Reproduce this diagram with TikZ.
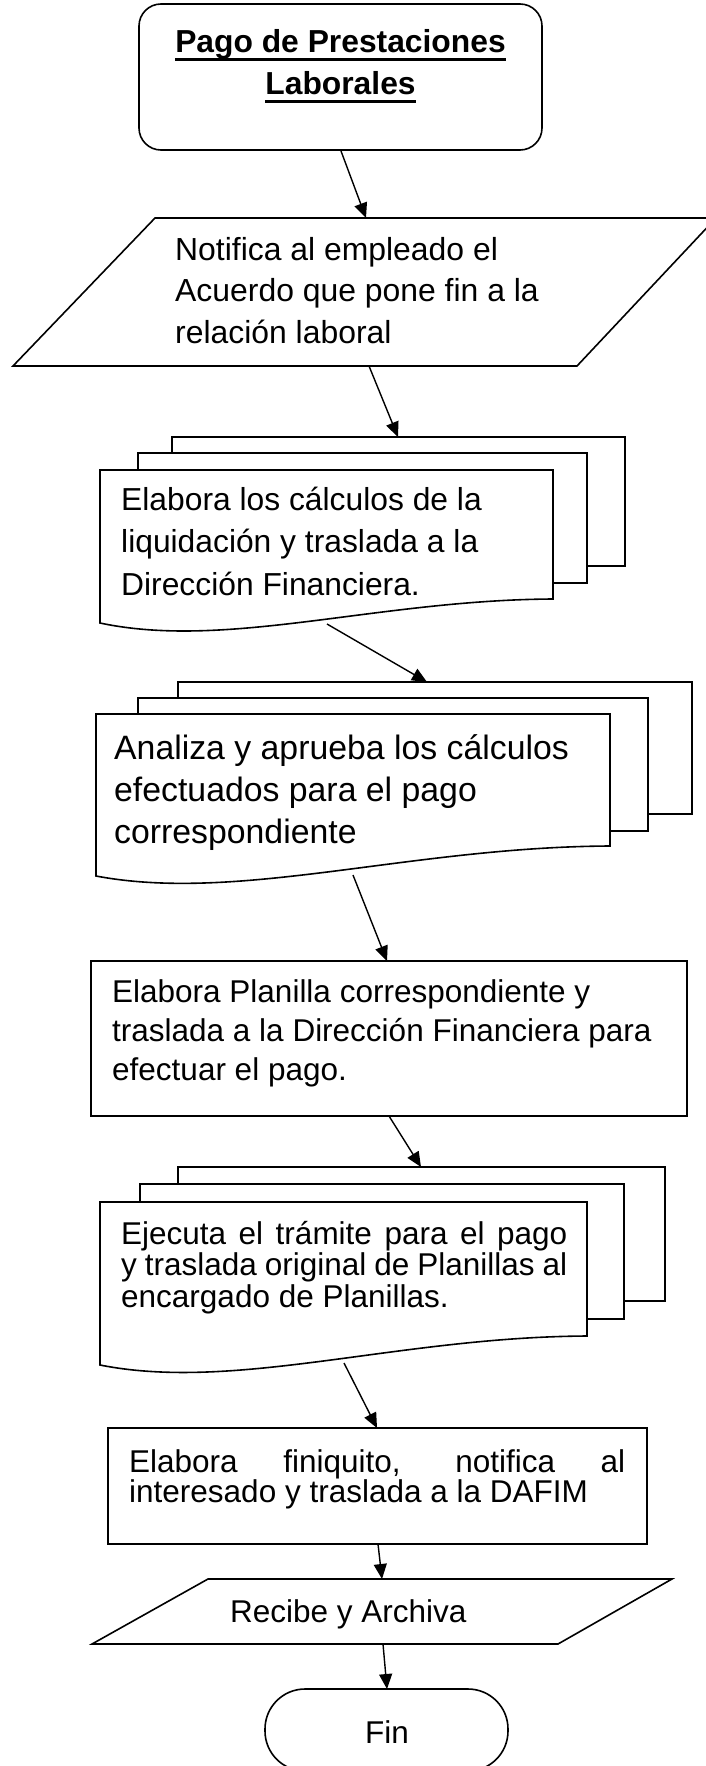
\documentclass[tikz,border=0pt]{standalone}
\usepackage{fontspec}
\setmainfont{Liberation Sans}
\usetikzlibrary{arrows.meta}
\newcommand\ulbox[1]{\setbox0\hbox{#1}\rlap{\rule[-7.7pt]{\wd0}{2.8pt}}\box0}
\newcommand\myline[1]{\hbox{#1}}
\newcommand\jline[2]{\hbox to #1{\spaceskip=.278em plus 1fil minus .15em\relax #2}}
\begin{document}
\begin{tikzpicture}[x=1pt,y=-1pt,
  shp/.style={draw,line width=1.6pt,fill=white,line join=miter},
  box/.style={draw,line width=1.6pt,fill=white,inner sep=0pt},
  txt/.style={anchor=base west,inner sep=0pt,font=\fontsize{31.5}{42}\selectfont},
  arr/.style={-{Triangle[length=15pt,width=13pt]},line width=1.4pt}]
\useasboundingbox (0,0) rectangle (705,1766);

% start
\node[box,rounded corners=22pt,minimum width=403pt,minimum height=146pt] (start) at (340.5,77) {};
\node[anchor=base,inner sep=0pt,font=\bfseries\fontsize{31.8}{42}\selectfont] (title) at (340.5,53)
  {\vtop{\baselineskip=42pt\hbox to 0pt{\hss\ulbox{Pago de Prestaciones}\hss}\hbox to 0pt{\hss\ulbox{Laborales}\hss}}};

% input 1
\draw[shp] (155,218) -- (716,218) -- (577,366) -- (13,366) -- cycle;
\node[txt,font=\fontsize{31.9}{42}\selectfont] (t1) at (175,260) {\vtop{\baselineskip=41.5pt\myline{Notifica al empleado el}\myline{Acuerdo que pone fin a la}\myline{relación laboral}}};

% stack 1
\draw[shp] (172,437) rectangle (625,566);
\draw[shp] (138,453) rectangle (587,583);
\draw[shp] (100,470) -- (553,470) -- (553,599) .. controls (376,600) and (227,650) .. (100,623) -- cycle;
\node[txt,font=\fontsize{31.8}{42}\selectfont] (t2) at (121,510) {\vtop{\baselineskip=42.5pt\myline{Elabora los cálculos de la}\myline{liquidación y traslada a la}\myline{Dirección Financiera.}}};

% stack 2
\draw[shp] (178,682) rectangle (692,814);
\draw[shp] (138,698) rectangle (648,831);
\draw[shp] (96,714) -- (610,714) -- (610,846) .. controls (409,847) and (239,903) .. (96,876) -- cycle;
\node[txt,font=\fontsize{33.8}{42}\selectfont] (t3) at (114,759) {\vtop{\baselineskip=42pt\myline{Analiza y aprueba los cálculos}\myline{efectuados para el pago}\myline{correspondiente}}};

% rect 1
\node[box,minimum width=596pt,minimum height=155pt] (r1) at (389,1038.5) {};
\node[txt] (t4) at (112,1002) {\vtop{\baselineskip=39pt\myline{Elabora Planilla correspondiente y}\myline{traslada a la Dirección Financiera para}\myline{efectuar el pago.}}};

% stack 3
\draw[shp] (178,1167) rectangle (665,1301);
\draw[shp] (140,1184) rectangle (624,1319);
\draw[shp] (100,1202) -- (587,1202) -- (587,1336) .. controls (397,1337) and (236,1392) .. (100,1365) -- cycle;
\node[txt] (t5) at (121,1244) {\vtop{\baselineskip=31.5pt\lineskiplimit=-50pt\jline{446pt}{Ejecuta el trámite para el pago}\jline{446pt}{y traslada original de Planillas al}\myline{encargado de Planillas.}}};

% rect 2
\node[box,minimum width=539pt,minimum height=116pt] (r2) at (377.5,1486) {};
\node[txt] (t6) at (129,1472) {\vtop{\baselineskip=30.5pt\lineskiplimit=-50pt\jline{496pt}{Elabora finiquito, notifica al}\myline{interesado y traslada a la DAFIM}}};

% input 2
\draw[shp] (208,1579) -- (672,1579) -- (558,1644) -- (92,1644) -- cycle;
\node[txt] (t7) at (230,1622) {Recibe y Archiva};

% end
\node[box,rounded corners=40pt,minimum width=243pt,minimum height=82pt] (fin) at (386.5,1730) {};
\node[anchor=base,inner sep=0pt,font=\fontsize{31.5}{42}\selectfont] (fint) at (387,1743) {Fin};

% connector endpoints
\coordinate (a1s) at (341,151);  \coordinate (a1e) at (366,218);
\coordinate (a2s) at (369,366);  \coordinate (a2e) at (398,437);
\coordinate (a3s) at (327,624);  \coordinate (a3e) at (427,682);
\coordinate (a4s) at (353,875);  \coordinate (a4e) at (387,961);
\coordinate (a5s) at (389,1116); \coordinate (a5e) at (421,1167);
\coordinate (a6s) at (344,1363); \coordinate (a6e) at (377,1428);
\coordinate (a7s) at (378,1544); \coordinate (a7e) at (382,1579);
\coordinate (a8s) at (383,1644); \coordinate (a8e) at (387,1689);
\foreach \i in {1,...,8} \draw[arr] (a\i s) -- (a\i e);
\end{tikzpicture}
\end{document}
